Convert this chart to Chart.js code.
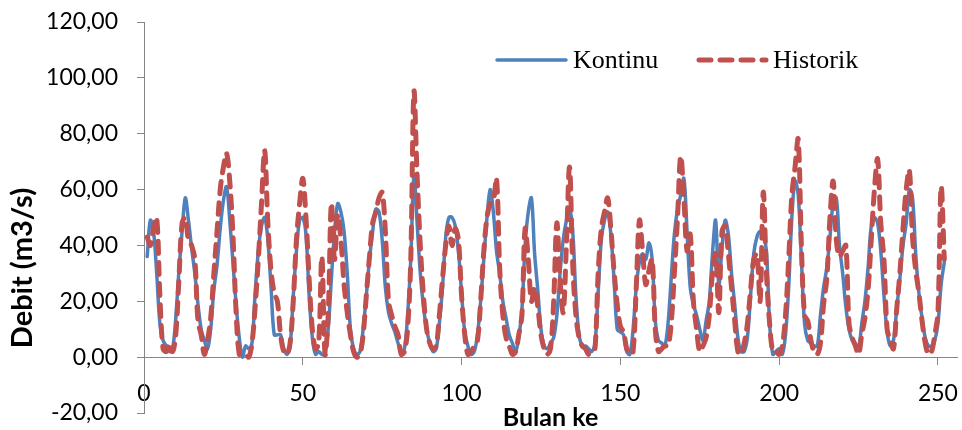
<!DOCTYPE html>
<html>
<head>
<meta charset="utf-8">
<script src="https://cdn.jsdelivr.net/npm/chart.js@4.4.1/dist/chart.umd.min.js"></script>
<style>
  html, body { margin: 0; padding: 0; background: #fff; }
  canvas { display: block; }
</style>
</head>
<body>
<canvas id="debit-chart" width="962" height="430"></canvas>
<script>
// Debit bulanan (m3/s), bulan ke-1 s/d ke-252
const kontinu = [
  36, 49, 45, 30, 12, 6, 4, 2, 3, 14,
  31, 45, 57, 49, 39, 30, 19, 10, 6, 3,
  10, 24, 33, 46, 56, 61, 49, 34, 19, 7,
  0, 4, 3, 5, 23, 38, 47, 50, 42, 25,
  8, 8, 8, 3, 1, 4, 22, 38, 49, 50,
  44, 22, 7, 1, 2, 1, 1, 10, 28, 45,
  55, 52, 45, 30, 10, 3, 1, 2, 10, 22,
  35, 45, 53, 52, 42, 25, 16, 12, 9, 5,
  2, 3, 15, 35, 65, 48, 30, 18, 10, 5,
  2, 3, 12, 25, 43, 50, 50, 47, 38, 23,
  9, 4, 1, 2, 8, 20, 35, 50, 60, 52,
  38, 30, 20, 14, 8, 5, 2, 7, 17, 40,
  52, 57, 37, 24, 10, 4, 3, 5, 7, 15,
  30, 42, 49, 53, 45, 22, 8, 4, 4, 3,
  2, 5, 23, 42, 49, 52, 44, 28, 10, 9,
  8, 2, 1, 10, 25, 34, 37, 35, 41, 35,
  13, 6, 5, 4, 12, 28, 44, 53, 58, 64,
  45, 25, 19, 15, 10, 6, 13, 20, 37, 49,
  26, 39, 49, 44, 30, 19, 7, 2, 2, 7,
  22, 37, 43, 45, 44, 38, 12, 1, 2, 3,
  1, 8, 25, 50, 63, 58, 35, 12, 6, 5,
  4, 4, 15, 25, 32, 43, 55, 57, 40, 30,
  18, 10, 6, 5, 3, 12, 20, 32, 47, 50,
  48, 38, 22, 9, 4, 6, 17, 28, 40, 48,
  60, 57, 37, 23, 14, 7, 4, 4, 6, 12,
  26, 34
];

const historik = [
  43, 40, 46, 50, 22, 3, 2, 5, 2, 8,
  28, 48, 50, 42, 40, 35, 13, 8, 1, 6,
  14, 30, 45, 60, 68, 73, 63, 44, 16, 1,
  1, 1, 0, 5, 18, 35, 55, 74, 48, 31,
  23, 20, 8, 2, 1, 5, 20, 42, 55, 64,
  50, 28, 10, 3, 5, 36, 1, 15, 55, 35,
  51, 42, 26, 16, 8, 2, 0, 1, 8, 22,
  36, 48, 52, 57, 59, 45, 20, 15, 11, 8,
  1, 2, 10, 35, 95, 65, 40, 22, 10, 5,
  3, 4, 15, 28, 40, 47, 40, 46, 42, 22,
  8, 1, 2, 4, 6, 20, 38, 50, 55, 56,
  64, 32, 15, 7, 4, 1, 2, 8, 15, 46,
  35, 20, 25, 18, 8, 3, 1, 3, 20, 48,
  28, 16, 40, 68, 33, 15, 7, 4, 3, 1,
  2, 3, 30, 46, 52, 57, 46, 31, 19, 11,
  9, 3, 1, 2, 25, 49, 38, 26, 31, 35,
  10, 2, 3, 4, 4, 12, 30, 50, 72, 57,
  38, 44, 20, 10, 2, 4, 7, 15, 30, 37,
  16, 45, 47, 37, 25, 13, 2, 1, 5, 12,
  24, 35, 37, 20, 59, 30, 12, 2, 2, 1,
  4, 15, 35, 58, 68, 78, 40, 15, 13, 6,
  2, 1, 5, 19, 28, 50, 63, 42, 36, 38,
  40, 12, 7, 4, 1, 8, 14, 24, 42, 60,
  71, 48, 35, 10, 6, 3, 17, 30, 46, 60,
  67, 43, 31, 23, 13, 5, 1, 2, 8, 16,
  61, 35
];

// bulan ke- (1..252)
const bulan = kontinu.map((_, i) => i + 1);

const AXIS_GREY = '#868686';
const tickFont = { family: 'Lato', size: 23 };

// legend drawn inside the plot, Excel-style
const insideLegend = {
  id: 'insideLegend',
  afterDraw(chart) {
    const ctx = chart.ctx;
    const y = 60;
    const items = [
      { ds: chart.data.datasets[1], x0: 497, x1: 566, tx: 573 },
      { ds: chart.data.datasets[0], x0: 699, x1: 766, tx: 773 }
    ];
    ctx.save();
    for (const it of items) {
      ctx.beginPath();
      ctx.lineWidth = it.ds.borderWidth;
      ctx.strokeStyle = it.ds.borderColor;
      ctx.lineCap = it.ds.borderCapStyle || 'butt';
      ctx.setLineDash(it.ds.borderDash || []);
      ctx.moveTo(it.x0, y);
      ctx.lineTo(it.x1, y);
      ctx.stroke();
      ctx.setLineDash([]);
      ctx.fillStyle = '#000';
      ctx.font = '26px "Liberation Serif", "Times New Roman", serif';
      ctx.textBaseline = 'middle';
      ctx.textAlign = 'left';
      ctx.fillText(it.ds.label, it.tx, y + 1);
    }
    ctx.restore();
  }
};

// y axis title, placed like the original
const yTitle = {
  id: 'yTitle',
  afterDraw(chart) {
    const ctx = chart.ctx;
    ctx.save();
    ctx.translate(23, 268);
    ctx.rotate(-Math.PI / 2);
    ctx.fillStyle = '#000';
    ctx.font = 'bold 29px Lato';
    ctx.textAlign = 'center';
    ctx.textBaseline = 'middle';
    ctx.fillText('Debit (m3/s)', 0, 0);
    ctx.restore();
  }
};

const ctx = document.getElementById('debit-chart').getContext('2d');
const chart = new Chart(ctx, {
  type: 'line',
  plugins: [insideLegend, yTitle],
  data: {
    labels: bulan,
    datasets: [
      {
        label: 'Historik',
        data: historik,
        borderColor: '#C0504D',
        borderWidth: 5,
        borderDash: [12, 9],
        borderCapStyle: 'round',
        pointRadius: 0,
        tension: 0.35,
        fill: false
      },
      {
        label: 'Kontinu',
        data: kontinu,
        borderColor: '#4F81BD',
        borderWidth: 3.5,
        borderCapStyle: 'round',
        pointRadius: 0,
        tension: 0.35,
        fill: false
      }
    ]
  },
  options: {
    responsive: false,
    animation: false,
    layout: { padding: { top: 22, right: 5, bottom: 17, left: 0 } },
    plugins: {
      legend: { display: false },
      tooltip: { enabled: false }
    },
    scales: {
      x: {
        type: 'linear',
        min: 0,
        max: 256,
        position: { y: 0 },
        ticks: {
          stepSize: 50,
          includeBounds: false,
          padding: 16,
          maxRotation: 0,
          color: '#000',
          font: tickFont
        },
        grid: { drawOnChartArea: false, drawTicks: true, tickLength: 7, color: AXIS_GREY },
        border: { color: AXIS_GREY, width: 1 },
        title: {
          display: true,
          text: 'Bulan ke',
          color: '#000',
          font: { family: 'Lato', size: 25, weight: 'bold' },
          padding: { top: 0, bottom: 0 }
        },
        afterFit(scale) {
          scale.height = 76;
          scale.paddingLeft = 0;
          scale.paddingRight = 0;
        }
      },
      y: {
        type: 'linear',
        min: -20,
        max: 120,
        ticks: {
          stepSize: 20,
          padding: 19,
          color: '#000',
          font: tickFont,
          callback: (v) => v.toFixed(2).replace('.', ',')
        },
        grid: { drawOnChartArea: false, drawTicks: true, tickLength: 7, color: AXIS_GREY },
        border: { color: AXIS_GREY, width: 1 },
        afterFit(scale) {
          scale.width = 144;
          scale.paddingTop = 0;
          scale.paddingBottom = 0;
        }
      }
    }
  }
});
</script>
</body>
</html>
